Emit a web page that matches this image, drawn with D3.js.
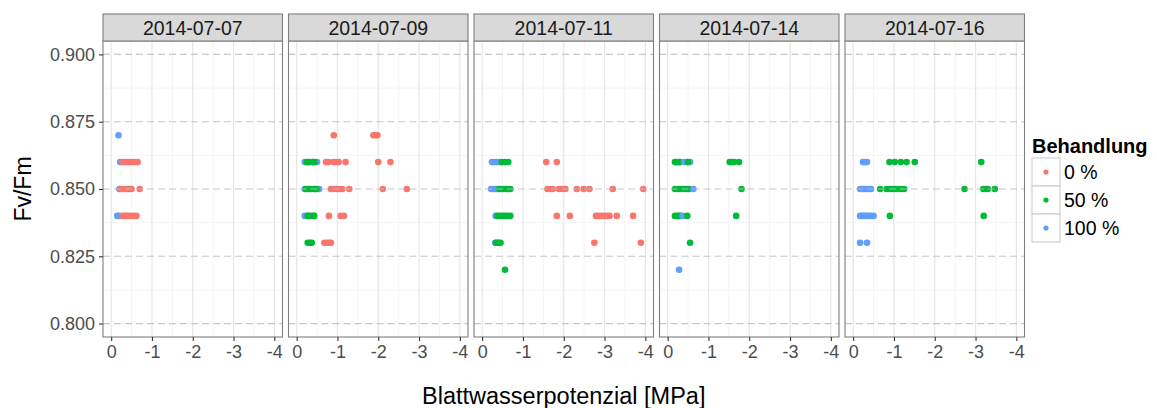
<!DOCTYPE html>
<meta charset="utf-8">
<head>
    <title>Fv/Fm und Blattwasserpotenzial</title>
    <style>
        body { margin: 0; background: #fff; }
        text { font-family: "Liberation Sans", Arial, sans-serif; }
    </style>
</head>
<body>
<svg width="1157" height="408"></svg>
<script src="https://d3js.org/d3.v7.min.js"></script>
<script>
    // facet labels, treatment groups and axis ticks
    var dates = ["2014-07-07", "2014-07-09", "2014-07-11", "2014-07-14", "2014-07-16"];
    var groups = ["0 %", "50 %", "100 %"];
    var groupColors = ["#F8766D", "#00BA38", "#619CFF"];
    var xTicks = [0, -1, -2, -3, -4];
    var yTicks = [0.800, 0.825, 0.850, 0.875, 0.900];

    // [Blattwasserpotenzial, Fv/Fm, group index]
    var p0707 = [
        [-0.18, 0.87, 2], [-0.22, 0.86, 2], [-0.2, 0.85, 2], [-0.15, 0.84, 2], [-0.2, 0.84, 2],
        [-0.45, 0.85, 1],
        [-0.28, 0.86, 0], [-0.33, 0.86, 0], [-0.38, 0.86, 0], [-0.45, 0.86, 0], [-0.52, 0.86, 0], [-0.58, 0.86, 0], [-0.65, 0.86, 0],
        [-0.23, 0.85, 0], [-0.28, 0.85, 0], [-0.33, 0.85, 0], [-0.38, 0.85, 0], [-0.5, 0.85, 0], [-0.7, 0.85, 0],
        [-0.28, 0.84, 0], [-0.33, 0.84, 0], [-0.38, 0.84, 0], [-0.43, 0.84, 0], [-0.5, 0.84, 0], [-0.56, 0.84, 0], [-0.62, 0.84, 0]
    ];
    var p0709 = [
        [-0.2, 0.86, 2], [-0.28, 0.86, 2], [-0.38, 0.86, 2], [-0.5, 0.86, 2],
        [-0.2, 0.85, 2], [-0.3, 0.85, 2], [-0.45, 0.85, 2], [-0.55, 0.85, 2],
        [-0.2, 0.84, 2], [-0.28, 0.84, 2],
        [-0.25, 0.86, 1], [-0.32, 0.86, 1], [-0.4, 0.86, 1], [-0.44, 0.86, 1],
        [-0.22, 0.85, 1], [-0.28, 0.85, 1], [-0.35, 0.85, 1], [-0.42, 0.85, 1], [-0.48, 0.85, 1],
        [-0.27, 0.84, 1], [-0.33, 0.84, 1], [-0.4, 0.84, 1], [-0.43, 0.84, 1],
        [-0.27, 0.83, 1], [-0.33, 0.83, 1], [-0.37, 0.83, 1],
        [-0.91, 0.87, 0], [-1.88, 0.87, 0], [-1.93, 0.87, 0], [-1.98, 0.87, 0],
        [-0.72, 0.86, 0], [-0.78, 0.86, 0], [-0.9, 0.86, 0], [-0.96, 0.86, 0], [-1.03, 0.86, 0], [-1.2, 0.86, 0], [-2.0, 0.86, 0], [-2.3, 0.86, 0],
        [-0.84, 0.85, 0], [-0.9, 0.85, 0], [-0.97, 0.85, 0], [-1.05, 0.85, 0], [-1.12, 0.85, 0], [-1.29, 0.85, 0], [-2.11, 0.85, 0], [-2.7, 0.85, 0],
        [-0.79, 0.84, 0], [-1.08, 0.84, 0], [-1.16, 0.84, 0],
        [-0.68, 0.83, 0], [-0.74, 0.83, 0], [-0.8, 0.83, 0], [-0.84, 0.83, 0]
    ];
    var p0711 = [
        [-0.24, 0.86, 2], [-0.3, 0.86, 2], [-0.36, 0.86, 2], [-0.42, 0.86, 2],
        [-0.22, 0.85, 2], [-0.28, 0.85, 2], [-0.34, 0.85, 2], [-0.38, 0.85, 2],
        [-0.33, 0.84, 2], [-0.32, 0.83, 2], [-0.4, 0.83, 2],
        [-0.48, 0.86, 1], [-0.56, 0.86, 1], [-0.64, 0.86, 1],
        [-0.42, 0.85, 1], [-0.48, 0.85, 1], [-0.52, 0.85, 1], [-0.58, 0.85, 1], [-0.63, 0.85, 1], [-0.69, 0.85, 1],
        [-0.38, 0.84, 1], [-0.44, 0.84, 1], [-0.5, 0.84, 1], [-0.56, 0.84, 1], [-0.62, 0.84, 1], [-0.69, 0.84, 1],
        [-0.34, 0.83, 1], [-0.39, 0.83, 1], [-0.45, 0.83, 1], [-0.56, 0.82, 1],
        [-1.57, 0.86, 0], [-1.83, 0.86, 0],
        [-1.6, 0.85, 0], [-1.67, 0.85, 0], [-1.73, 0.85, 0], [-1.88, 0.85, 0], [-1.95, 0.85, 0], [-2.04, 0.85, 0],
        [-2.32, 0.85, 0], [-2.49, 0.85, 0], [-2.63, 0.85, 0], [-3.2, 0.85, 0], [-3.95, 0.85, 0],
        [-1.83, 0.84, 0], [-2.15, 0.84, 0], [-2.79, 0.84, 0], [-2.85, 0.84, 0], [-2.92, 0.84, 0], [-3.0, 0.84, 0],
        [-3.06, 0.84, 0], [-3.12, 0.84, 0], [-3.3, 0.84, 0], [-3.7, 0.84, 0],
        [-2.75, 0.83, 0], [-3.89, 0.83, 0]
    ];
    var p0714 = [
        [-0.18, 0.86, 1], [-0.22, 0.86, 1], [-0.27, 0.86, 1], [-0.3, 0.86, 1],
        [-0.41, 0.86, 2], [-0.47, 0.86, 2], [-0.55, 0.86, 2], [-0.5, 0.86, 1],
        [-1.52, 0.86, 1], [-1.57, 0.86, 1], [-1.63, 0.86, 1], [-1.75, 0.86, 1],
        [-0.18, 0.85, 1], [-0.24, 0.85, 1], [-0.3, 0.85, 1], [-0.36, 0.85, 1], [-0.42, 0.85, 1], [-0.48, 0.85, 1], [-0.53, 0.85, 1],
        [-0.63, 0.85, 2], [-1.81, 0.85, 1],
        [-0.18, 0.84, 1], [-0.23, 0.84, 1], [-0.28, 0.84, 1], [-0.32, 0.84, 1], [-0.37, 0.84, 2], [-0.48, 0.84, 1], [-1.68, 0.84, 1],
        [-0.55, 0.83, 1], [-0.28, 0.82, 2]
    ];
    var p0716 = [
        [-0.24, 0.86, 2], [-0.29, 0.86, 2], [-0.34, 0.86, 2],
        [-0.17, 0.85, 2], [-0.22, 0.85, 2], [-0.27, 0.85, 2], [-0.32, 0.85, 2], [-0.38, 0.85, 2], [-0.44, 0.85, 2],
        [-0.17, 0.84, 2], [-0.22, 0.84, 2], [-0.27, 0.84, 2], [-0.32, 0.84, 2], [-0.37, 0.84, 2], [-0.43, 0.84, 2], [-0.5, 0.84, 2],
        [-0.17, 0.83, 2], [-0.34, 0.83, 2],
        [-0.89, 0.86, 1], [-1.02, 0.86, 1], [-1.17, 0.86, 1], [-1.31, 0.86, 1], [-1.51, 0.86, 1], [-3.14, 0.86, 1],
        [-0.66, 0.85, 1], [-0.82, 0.85, 1], [-0.88, 0.85, 1], [-0.95, 0.85, 1], [-1.02, 0.85, 1], [-1.1, 0.85, 1],
        [-1.18, 0.85, 1], [-1.25, 0.85, 1], [-2.73, 0.85, 1], [-3.19, 0.85, 1], [-3.25, 0.85, 1], [-3.3, 0.85, 1], [-3.47, 0.85, 1],
        [-0.9, 0.84, 1], [-3.2, 0.84, 1]
    ];
    var panelData = [p0707, p0709, p0711, p0714, p0716];

    var svg = d3.select("svg");

    var panelLeft = 103,
        panelWidth = 179.5,
        panelStep = 185.5,
        stripTop = 14,
        stripHeight = 27,
        panelTop = stripTop + stripHeight,
        panelBottom = 337;

    // 5% expansion like ggplot: limits 0.8..0.9 and 0..-4
    var y = d3.scaleLinear().domain([0.795, 0.905]).range([panelBottom, panelTop]);
    var yMinor = [0.8125, 0.8375, 0.8625, 0.8875];
    var xMinor = [-0.5, -1.5, -2.5, -3.5];

    dates.forEach(function(date, i) {
        var left = panelLeft + i * panelStep;
        var x = d3.scaleLinear().domain([0.2, -4.2]).range([left, left + panelWidth]);
        var g = svg.append("g").attr("class", "panel");

        g.append("rect")
            .attr("x", left).attr("y", panelTop)
            .attr("width", panelWidth).attr("height", panelBottom - panelTop)
            .attr("fill", "white");

        // minor grid
        g.selectAll(".xminor").data(xMinor).enter().append("line")
            .attr("x1", function(d) { return x(d); }).attr("x2", function(d) { return x(d); })
            .attr("y1", panelTop).attr("y2", panelBottom)
            .attr("stroke", "#F5F5F5").attr("stroke-width", 1);
        g.selectAll(".yminor").data(yMinor).enter().append("line")
            .attr("x1", left).attr("x2", left + panelWidth)
            .attr("y1", function(d) { return y(d); }).attr("y2", function(d) { return y(d); })
            .attr("stroke", "#F5F5F5").attr("stroke-width", 1);

        // major x grid
        g.selectAll(".xmajor").data(xTicks).enter().append("line")
            .attr("x1", function(d) { return x(d); }).attr("x2", function(d) { return x(d); })
            .attr("y1", panelTop).attr("y2", panelBottom)
            .attr("stroke", "#E6E6E6").attr("stroke-width", 1.2);

        g.selectAll("circle")
            .data(panelData[i])
            .enter().append("circle")
            .attr("cx", function(d) { return x(d[0]); })
            .attr("cy", function(d) { return y(d[1]); })
            .attr("r", 3.3)
            .attr("fill", function(d) { return groupColors[d[2]]; });

        // dashed y lines sit on top of the points in the original
        g.selectAll(".ymajor").data(yTicks).enter().append("line")
            .attr("x1", left).attr("x2", left + panelWidth)
            .attr("y1", function(d) { return y(d); }).attr("y2", function(d) { return y(d); })
            .attr("stroke", "#BDBDBD").attr("stroke-opacity", 0.85)
            .attr("stroke-width", 1.2).attr("stroke-dasharray", "7,4");

        g.append("rect")
            .attr("x", left).attr("y", panelTop)
            .attr("width", panelWidth).attr("height", panelBottom - panelTop)
            .attr("fill", "none").attr("stroke", "#7F7F7F").attr("stroke-width", 1.1);

        // strip
        g.append("rect")
            .attr("x", left).attr("y", stripTop)
            .attr("width", panelWidth).attr("height", stripHeight)
            .attr("fill", "#D9D9D9").attr("stroke", "#7F7F7F").attr("stroke-width", 1.1);
        g.append("text")
            .attr("x", left + panelWidth / 2).attr("y", stripTop + stripHeight / 2 + 7)
            .attr("text-anchor", "middle").attr("font-size", 19.5).attr("fill", "#1A1A1A")
            .text(date);

        var xAxis = svg.append("g")
            .attr("transform", "translate(0," + panelBottom + ")")
            .call(d3.axisBottom(x).tickValues(xTicks).tickSize(4).tickPadding(4)
                .tickFormat(function(d) { return String(d); }));
        xAxis.select(".domain").remove();
        xAxis.selectAll("line").attr("stroke", "#333333").attr("stroke-width", 1.1);
        xAxis.selectAll("text").attr("font-size", 18).attr("fill", "#4D4D4D")
            .attr("font-family", "Liberation Sans, Arial, sans-serif");
    });

    var yAxis = svg.append("g")
        .attr("transform", "translate(" + panelLeft + ",0)")
        .call(d3.axisLeft(y).tickValues(yTicks).tickSize(4).tickPadding(4).tickFormat(d3.format(".3f")));
    yAxis.select(".domain").remove();
    yAxis.selectAll("line").attr("stroke", "#333333").attr("stroke-width", 1.1);
    yAxis.selectAll("text").attr("font-size", 18).attr("fill", "#4D4D4D")
        .attr("font-family", "Liberation Sans, Arial, sans-serif");

    // axis titles
    svg.append("text")
        .attr("x", (panelLeft + panelLeft + 4 * panelStep + panelWidth) / 2).attr("y", 404)
        .attr("text-anchor", "middle").attr("font-size", 23.5).attr("fill", "black")
        .text("Blattwasserpotenzial [MPa]");
    svg.append("text")
        .attr("transform", "translate(31," + y(0.85) + ") rotate(-90)")
        .attr("text-anchor", "middle").attr("font-size", 23).attr("fill", "black")
        .text("Fv/Fm");

    // legend
    var legend = svg.append("g").attr("class", "legend");
    var keySize = 28, keyLeft = 1032, keyTop = 158;
    legend.append("text")
        .attr("x", 1032).attr("y", 153)
        .attr("font-size", 20).attr("font-weight", "bold").attr("fill", "black")
        .text("Behandlung");
    groups.forEach(function(label, i) {
        var top = keyTop + i * keySize;
        legend.append("rect")
            .attr("x", keyLeft).attr("y", top)
            .attr("width", keySize).attr("height", keySize)
            .attr("fill", "white").attr("stroke", "#CCCCCC").attr("stroke-width", 1.1);
        legend.append("circle")
            .attr("cx", keyLeft + keySize / 2).attr("cy", top + keySize / 2)
            .attr("r", 2.6).attr("fill", groupColors[i]);
        legend.append("text")
            .attr("x", keyLeft + keySize + 4).attr("y", top + keySize / 2 + 7)
            .attr("font-size", 19.5).attr("fill", "black")
            .text(label);
    });
</script>
</body>
